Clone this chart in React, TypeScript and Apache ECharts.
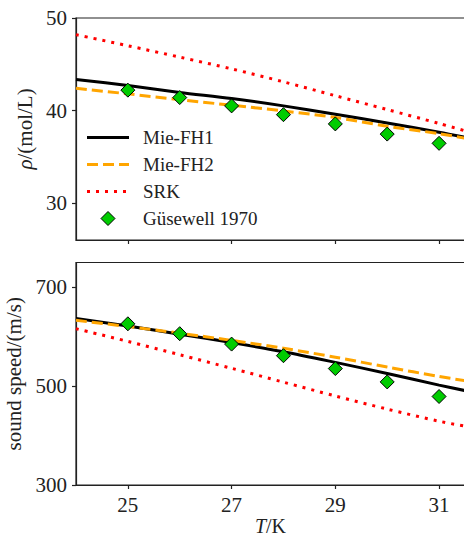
import React, { useEffect, useRef } from 'react';
import * as echarts from 'echarts';

// Temperature grid for model curves (K)
const T = [24, 25, 26, 27, 28, 29, 30, 31, 31.5];
// Density (mol/L)
const rhoFH1 = [43.35, 42.7, 41.95, 41.3, 40.5, 39.6, 38.65, 37.65, 37.1];
const rhoFH2 = [42.4, 41.8, 41.17, 40.57, 39.95, 39.25, 38.3, 37.5, 37.0];
const rhoSRK = [48.2, 47.0, 45.77, 44.5, 43.1, 41.6, 40.1, 38.6, 37.8];
// Sound speed (m/s)
const cFH1 = [637, 621.5, 605, 588, 569.5, 548, 525.5, 502, 491];
const cFH2 = [633, 620.5, 607, 592.5, 576.5, 558.5, 538.5, 519.5, 511];
const cSRK = [616, 590.5, 563.5, 536, 508, 480, 453.5, 429, 419];
// Experimental data (Güsewell 1970)
const expT = [25, 26, 27, 28, 29, 30, 31];
const rhoExp = [42.2, 41.4, 40.5, 39.55, 38.55, 37.45, 36.45];
const cExp = [626, 606, 585, 561.5, 535.5, 508.5, 479];
// Ticks
const xTicks = [25, 27, 29, 31];
const rhoTicks = [30, 40, 50];
const cTicks = [300, 500, 700];
const legendNames = ['Mie-FH1', 'Mie-FH2', 'SRK', 'Güsewell 1970'];

export default function App() {
  const ref = useRef<HTMLDivElement>(null);
  useEffect(() => {
    const chart = echarts.init(ref.current!, null, { renderer: 'svg' });
    const font = 'Liberation Serif';
    const ink = '#222';
    const pair = (xs: number[], ys: number[]) => xs.map((x, i) => [x, ys[i]]);

    const xAxisBase = (gridIndex: number, showLabels: boolean) => ({
      type: 'value',
      gridIndex,
      min: 24,
      max: 31.5,
      axisLine: { show: true, lineStyle: { color: ink, width: 1.2 } },
      axisTick: { show: true, length: 4, customValues: xTicks, lineStyle: { color: ink, width: 1.2 } },
      axisLabel: {
        show: showLabels,
        customValues: xTicks,
        fontSize: 21,
        fontFamily: font,
        color: ink,
        margin: 9,
      },
      splitLine: { show: false },
    });

    const yAxisBase = (gridIndex: number, min: number, max: number, ticks: number[]) => ({
      type: 'value',
      gridIndex,
      min,
      max,
      axisLine: { show: true, lineStyle: { color: ink, width: 1.2 } },
      axisTick: { show: true, length: 4, customValues: ticks, lineStyle: { color: ink, width: 1.2 } },
      axisLabel: {
        customValues: ticks,
        fontSize: 21,
        fontFamily: font,
        color: ink,
        margin: 9,
      },
      splitLine: { show: false },
    });

    const lineSeries = (name: string, xi: number, data: number[], color: string, type: any, z: number) => ({
      name,
      type: 'line',
      xAxisIndex: xi,
      yAxisIndex: xi,
      data: pair(T, data),
      showSymbol: false,
      symbol: 'none',
      smooth: 0.3,
      z,
      lineStyle: { color, width: 3, type, cap: 'butt' },
    });

    const scatterSeries = (xi: number, data: number[]) => ({
      name: legendNames[3],
      type: 'scatter',
      xAxisIndex: xi,
      yAxisIndex: xi,
      data: pair(expT, data),
      symbol: 'diamond',
      symbolSize: 14,
      z: 10,
      itemStyle: { color: '#00cc00', borderColor: '#000', borderWidth: 1, opacity: 1 },
    });

    const legendRows = [137.5, 164.5, 191.5, 218.5];
    const legendStyles: any[] = [
      { stroke: '#000', lineWidth: 3 },
      { stroke: '#ffa500', lineWidth: 3, lineDash: [11, 5] },
      { stroke: '#ff0000', lineWidth: 3, lineDash: [3, 6] },
    ];
    const graphics: any[] = [];
    legendStyles.forEach((s, i) => {
      graphics.push({
        type: 'line',
        shape: { x1: 87, y1: legendRows[i], x2: 129, y2: legendRows[i] },
        style: { ...s, lineCap: 'butt' },
        z: 20,
      });
    });
    graphics.push({
      type: 'polygon',
      shape: {
        points: [
          [108, legendRows[3] - 7],
          [115, legendRows[3]],
          [108, legendRows[3] + 7],
          [101, legendRows[3]],
        ],
      },
      style: { fill: '#00cc00', stroke: '#000', lineWidth: 1 },
      z: 20,
    });
    legendNames.forEach((n, i) => {
      graphics.push({
        type: 'text',
        x: 143,
        y: legendRows[i],
        style: { text: n, fill: ink, fontSize: 19, fontFamily: font, verticalAlign: 'middle', align: 'left' },
        z: 20,
      });
    });

    const gridBase = {
      left: 76,
      right: -1,
      show: true,
      borderColor: ink,
      borderWidth: 1.2,
      backgroundColor: 'transparent',
      containLabel: false,
      outerBoundsMode: 'none',
    };

    chart.setOption({
      animation: false,
      backgroundColor: '#fff',
      grid: [
        { ...gridBase, top: 18, height: 222 },
        { ...gridBase, top: 262.5, height: 222.5 },
      ],
      xAxis: [
        xAxisBase(0, false),
        {
          ...xAxisBase(1, true),
          name: '{i|T}/K',
          nameLocation: 'middle',
          nameGap: 35,
          nameTextStyle: {
            fontSize: 20,
            lineHeight: 18,
            verticalAlign: 'middle',
            fontFamily: font,
            color: ink,
            rich: { i: { fontStyle: 'italic', fontSize: 20, lineHeight: 18, fontFamily: font, color: ink } },
          },
        },
      ],
      yAxis: [
        {
          ...yAxisBase(0, 26, 50, rhoTicks),
          name: '{i|ρ}/(mol/L)',
          nameLocation: 'middle',
          nameGap: 30,
          nameRotate: 90,
          nameTextStyle: {
            fontSize: 21,
            fontFamily: font,
            color: ink,
            rich: { i: { fontStyle: 'italic', fontSize: 21, fontFamily: font, color: ink } },
          },
        },
        {
          ...yAxisBase(1, 300, 750, cTicks),
          name: 'sound speed/(m/s)',
          nameLocation: 'middle',
          nameGap: 41,
          nameRotate: 90,
          nameTextStyle: { fontSize: 21, fontFamily: font, color: ink },
        },
      ],
      series: [
        lineSeries(legendNames[0], 0, rhoFH1, '#000', 'solid', 2),
        lineSeries(legendNames[1], 0, rhoFH2, '#ffa500', [11, 5], 3),
        lineSeries(legendNames[2], 0, rhoSRK, '#ff0000', [3, 6], 4),
        scatterSeries(0, rhoExp),
        lineSeries(legendNames[0], 1, cFH1, '#000', 'solid', 2),
        lineSeries(legendNames[1], 1, cFH2, '#ffa500', [11, 5], 3),
        lineSeries(legendNames[2], 1, cSRK, '#ff0000', [3, 6], 4),
        scatterSeries(1, cExp),
      ],
      graphic: graphics,
    });
    return () => chart.dispose();
  }, []);
  return <div ref={ref} style={{ position: 'fixed', left: 0, top: 0, width: 464, height: 535 }} />;
}
